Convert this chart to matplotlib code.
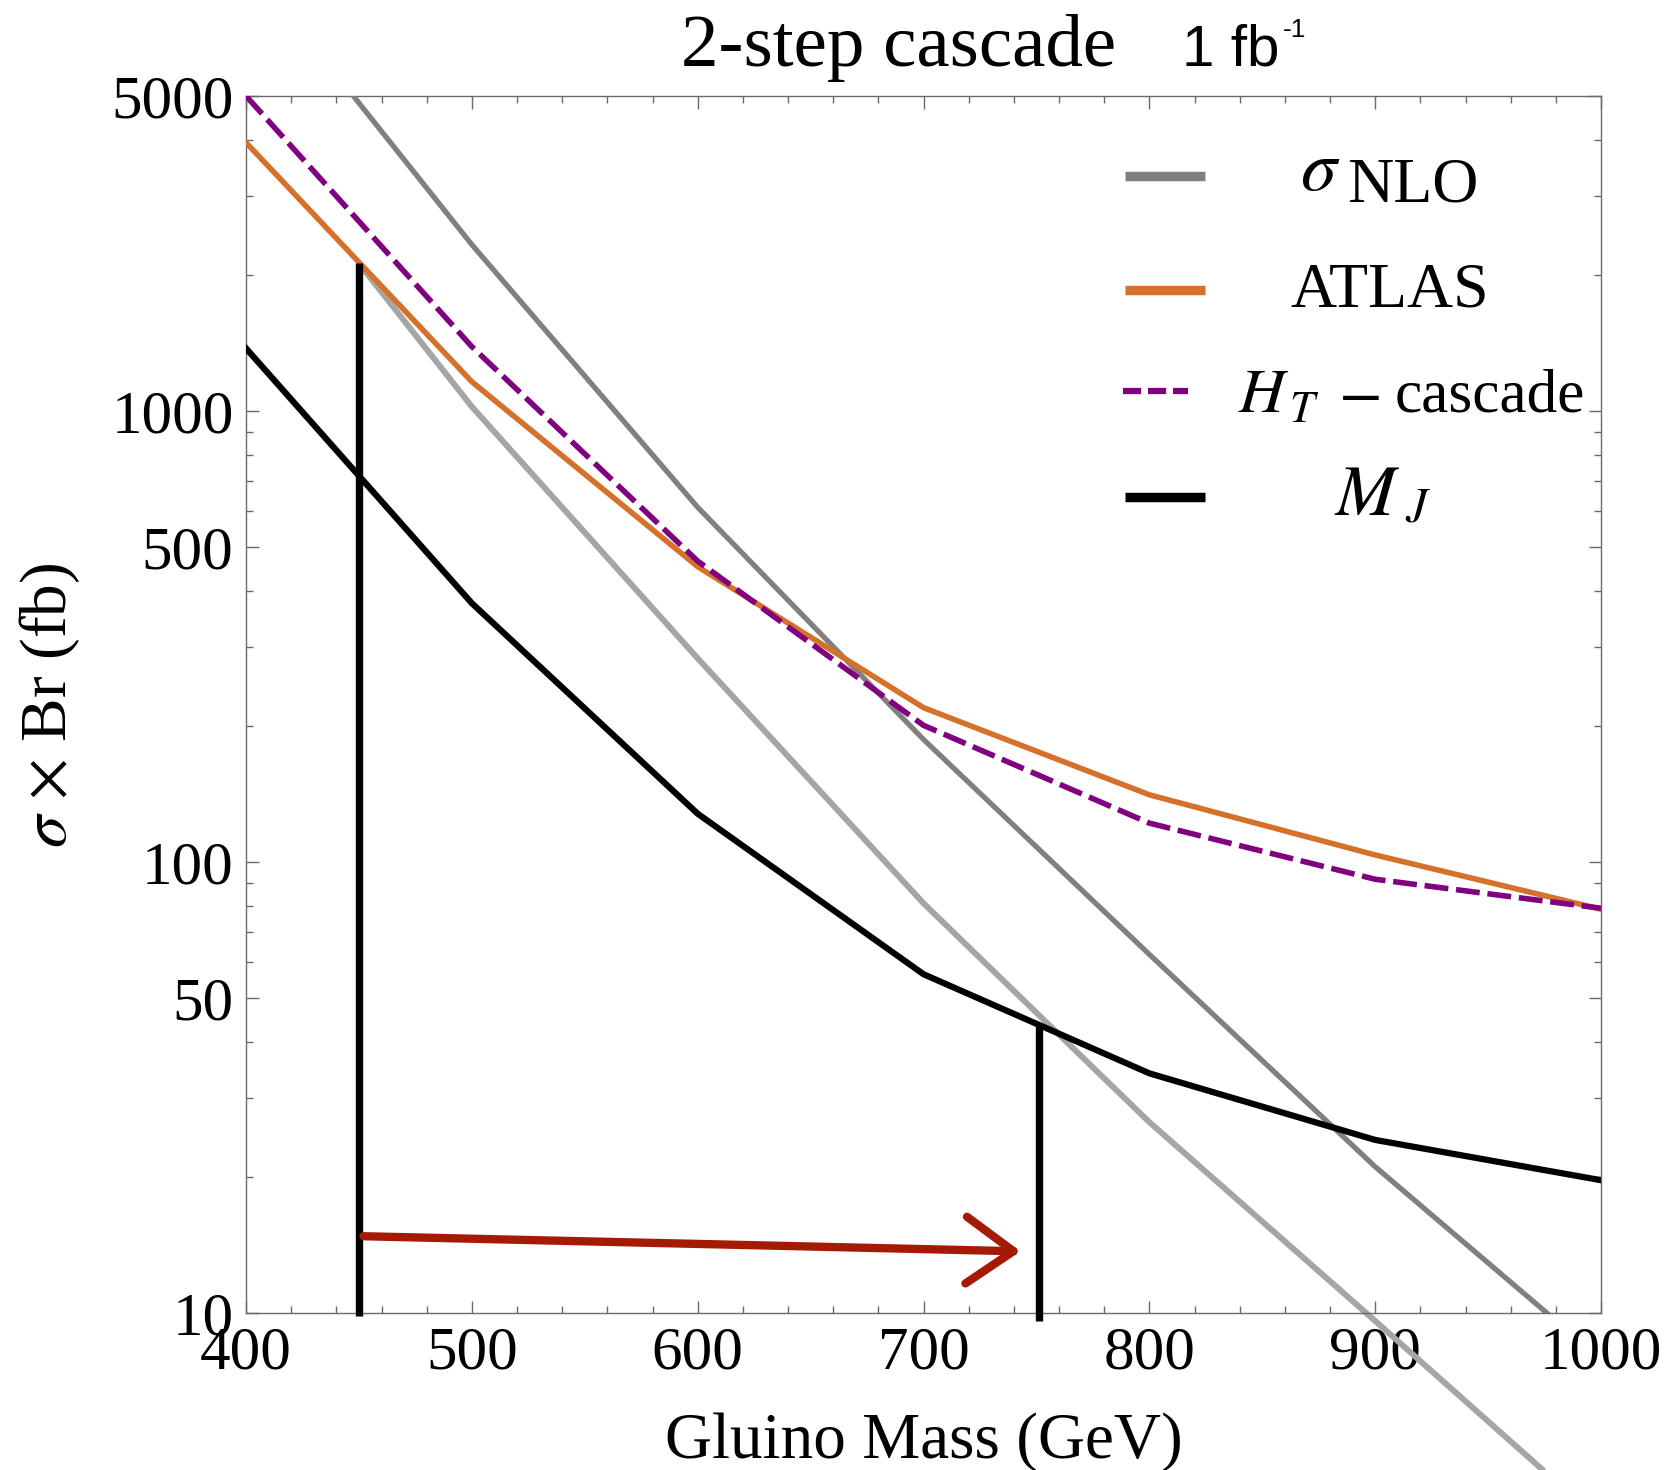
import matplotlib
matplotlib.use("Agg")
import matplotlib.pyplot as plt
from matplotlib.ticker import FixedLocator, FixedFormatter, NullFormatter

plt.rcParams['font.family'] = ['Liberation Serif', 'DejaVu Serif']
plt.rcParams['mathtext.fontset'] = 'stix'

# ---------------- data ----------------
mass = [400, 500, 600, 700, 800, 900, 1000]
sigma_nlo = [9950, 2340, 612, 187, 62.4, 21.1, 7.9]
atlas = [3940, 1162, 452, 220, 141, 103.7, 78.6]
ht_cascade = [5000, 1390, 465, 201, 122, 91.6, 79]
mj = [1378, 375, 128, 56.4, 34.0, 24.2, 19.7]

ref_mass = [450, 500, 600, 700, 800, 900, 975]
ref_sigma = [2127, 1023, 283, 81, 26.5, 9.6, 4.45]

limit_mass = [450, 751]
limit_top = [2127, 43.7]
limit_bottom = [9.85, 9.6]

arrow_from = (452, 14.8)
arrow_to = (743, 13.7)

x_ticks = [400, 500, 600, 700, 800, 900, 1000]
x_labels = ["400", "500", "600", "700", "800", "900", "1000"]
x_minor = [m for m in range(400, 1001, 20) if m % 100 != 0]
y_ticks = [10, 50, 100, 500, 1000, 5000]
y_labels = ["10", "50", "100", "500", "1000", "5000"]
y_minor = [20, 30, 40, 60, 70, 80, 90, 200, 300, 400, 600, 700, 800, 900,
           2000, 3000, 4000]

title_main = "2-step cascade"
title_lumi = "1 fb"
title_lumi_exp = "-1"
x_label = "Gluino Mass (GeV)"
y_label = r"$\sigma$ $\times$ Br (fb)"

# ---------------- styles ----------------
c_nlo = '#808080'
c_ref = '#A4A6A4'
c_atlas = '#D5712A'
c_ht = '#800080'
c_mj = '#000000'
c_arrow = '#A51A05'
c_axis = '#6a6a6a'

W, H = 1676, 1470
fig = plt.figure(figsize=(W / 100, H / 100), dpi=100)
ax = fig.add_axes([0.1468, 0.1068, 0.8085, 0.8279])
ax.set_yscale('log')
ax.set_xlim(400, 1000)
ax.set_ylim(10, 5000)


def ptext(x_px, base_px, s, **kw):
    """Place a text at pixel x (left by default) with its baseline at pixel y."""
    kw.setdefault('ha', 'left')
    return fig.text(x_px / W, 1 - base_px / H, s, va='baseline', **kw)


ax.plot(ref_mass, ref_sigma, color=c_ref, lw=4.3, clip_on=False, zorder=2,
        solid_capstyle='butt')
ax.plot(mass, sigma_nlo, color=c_nlo, lw=3.8, zorder=3)
ax.plot(mass, atlas, color=c_atlas, lw=4.0, zorder=4)
ax.plot(mass, ht_cascade, color=c_ht, lw=4.0, dashes=(4.3, 1.4), zorder=5)
ax.plot(mass, mj, color=c_mj, lw=4.5, zorder=6)

for m, yt, yb in zip(limit_mass, limit_top, limit_bottom):
    ax.plot([m, m], [yt, yb], color='black', lw=5.3, clip_on=False, zorder=7,
            solid_capstyle='butt')

# hand-drawn style arrow
ax.annotate('', xy=arrow_to, xytext=arrow_from,
            arrowprops=dict(arrowstyle='->,head_length=1.7,head_width=1.2',
                            color=c_arrow, lw=6.0, mutation_scale=20,
                            shrinkA=0, shrinkB=0),
            zorder=8)

# ---------------- axes styling ----------------
ax.xaxis.set_major_locator(FixedLocator(x_ticks))
ax.xaxis.set_major_formatter(FixedFormatter(x_labels))
ax.xaxis.set_minor_locator(FixedLocator(x_minor))
ax.xaxis.set_minor_formatter(NullFormatter())
ax.yaxis.set_major_locator(FixedLocator(y_ticks))
ax.yaxis.set_major_formatter(FixedFormatter(y_labels))
ax.yaxis.set_minor_locator(FixedLocator(y_minor))
ax.yaxis.set_minor_formatter(NullFormatter())

ax.tick_params(which='both', direction='in', top=True, right=True,
               color=c_axis, width=1.0, labelsize=44)
ax.tick_params(which='major', length=9)
ax.tick_params(which='minor', length=5)
ax.tick_params(axis='x', which='major', pad=9)
ax.tick_params(axis='y', which='major', pad=9)
for s in ax.spines.values():
    s.set_color(c_axis)
    s.set_linewidth(1.0)

# ---------------- legend (manual) ----------------
leg_y = [0.9345, 0.8406, 0.7576, 0.6708]
leg_colors = [c_nlo, c_atlas, c_ht, c_mj]
for i in range(4):
    if i == 2:
        ax.plot([0.647, 0.695], [leg_y[i], leg_y[i]], transform=ax.transAxes,
                color=leg_colors[i], lw=4.5, dashes=(2.9, 1.1),
                dash_capstyle='butt', clip_on=False)
    else:
        ax.plot([0.649, 0.708], [leg_y[i], leg_y[i]], transform=ax.transAxes,
                color=leg_colors[i], lw=6.8, solid_capstyle='butt',
                clip_on=False)

# sigma_NLO
ptext(1300, 190, r"$\sigma$", fontsize=52)
ptext(1347, 201.7, "NLO", fontsize=46)
# ATLAS
ptext(1390, 306.7, "ATLAS", fontsize=46, ha='center')
# H_T - cascade
ptext(1238, 411.7, r"$H$", fontsize=46)
ptext(1289, 422, r"$T$", fontsize=32)
ptext(1338, 411.7, r"$-$", fontsize=46)
ptext(1395, 411.7, "cascade", fontsize=44)
# M_J
ptext(1334, 515, r"$M$", fontsize=52)
ptext(1405, 521, r"$J$", fontsize=35)

# ---------------- titles / labels ----------------
ptext(681, 66, title_main, fontsize=54)
t = ptext(1182, 66, title_lumi, family=['Liberation Sans', 'DejaVu Sans'],
          fontsize=42)
fig.canvas.draw()
bb = t.get_window_extent()
ptext(bb.x1 + 3, 37, title_lumi_exp, family=['Liberation Sans', 'DejaVu Sans'],
      fontsize=19)

ptext(923.5, 1458, x_label, fontsize=47, ha='center')
fig.text(50 / W, 1 - 705 / H, y_label, fontsize=47,
         ha='center', va='center', rotation=90)

fig.savefig('out.png', dpi=100)
